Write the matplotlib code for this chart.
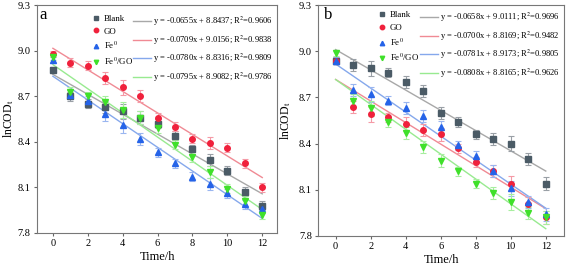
import matplotlib.pyplot as plt
import numpy as np

plt.rcParams['font.family'] = ['Liberation Serif', 'DejaVu Serif']
plt.rcParams['mathtext.fontset'] = 'stix'

# Час, год
time = np.arange(0, 13)

labels = ['Blank', 'GO', 'Fe$^{0}$', 'Fe$^{0}$/GO']

# Панель a: lnCOD_t
a_blank = [8.87, 8.70, 8.65, 8.63, 8.60, 8.56, 8.52, 8.44, 8.35, 8.28, 8.21, 8.07, 7.98]
a_go = [8.98, 8.92, 8.90, 8.82, 8.76, 8.70, 8.56, 8.50, 8.42, 8.39, 8.36, 8.26, 8.10]
a_fe = [8.94, 8.71, 8.67, 8.58, 8.51, 8.42, 8.33, 8.26, 8.17, 8.12, 8.06, 7.99, 7.96]
a_fego = [8.96, 8.73, 8.70, 8.66, 8.61, 8.56, 8.49, 8.38, 8.30, 8.20, 8.09, 8.01, 7.92]
a_err = [0.02, 0.03, 0.03, 0.04, 0.05, 0.04, 0.03, 0.03, 0.03, 0.04, 0.03, 0.03, 0.03]
a_slope = [-0.0655, -0.0709, -0.0780, -0.0795]
a_icpt = [8.8437, 9.0156, 8.8316, 8.9082]
a_r2 = ['0.9606', '0.9838', '0.9809', '0.9786']

# Панель b
b_blank = [8.94, 8.91, 8.89, 8.86, 8.80, 8.74, 8.60, 8.54, 8.46, 8.43, 8.40, 8.30, 8.14]
b_go = [8.94, 8.64, 8.59, 8.57, 8.53, 8.49, 8.46, 8.37, 8.28, 8.22, 8.14, 8.01, 7.92]
b_fe = [8.94, 8.75, 8.72, 8.68, 8.63, 8.58, 8.51, 8.39, 8.32, 8.22, 8.11, 8.02, 7.94]
b_fego = [8.99, 8.68, 8.63, 8.54, 8.47, 8.38, 8.29, 8.22, 8.14, 8.08, 8.02, 7.95, 7.92]
b_err = [0.02, 0.04, 0.05, 0.03, 0.04, 0.04, 0.04, 0.03, 0.03, 0.04, 0.05, 0.04, 0.04]
b_slope = [-0.0658, -0.0700, -0.0781, -0.0808]
b_icpt = [9.0111, 8.8169, 8.9173, 8.8165]
b_r2 = ['0.9696', '0.9482', '0.9805', '0.9626']

markers = ['s', 'o', '^', 'v']
mcolors = ['#4b5b66', '#f0213c', '#2563e8', '#3fe02a']
lcolors = ['#a8a8a8', '#f08a94', '#85a8ec', '#98ea90']
ecolors = ['#9aa0a6', '#f59aa6', '#9ab6f0', '#a8eea0']

fig = plt.figure(figsize=(5.67, 2.69), dpi=100)
ax1 = fig.add_axes([0.065, 0.134, 0.424, 0.847])
ax2 = fig.add_axes([0.561, 0.123, 0.434, 0.858])


def draw(ax, series, err, slopes, icpts, r2s, letter, xlim, ylab_x, let_x, leg_pos):
    pts = []
    lines = []
    for i, y in enumerate(series):
        ax.errorbar(time, y, yerr=err, fmt='none', ecolor=ecolors[i], elinewidth=0.8,
                    capsize=2, capthick=0.8, zorder=2)
        p, = ax.plot(time, y, linestyle='none', marker=markers[i], color=mcolors[i],
                     markersize=4, zorder=3)
        xs = np.array([0, 12])
        l, = ax.plot(xs, slopes[i] * xs + icpts[i], color=lcolors[i], lw=1.0, zorder=1)
        pts.append(p)
        lines.append(l)
    eqs = ['y = %.4fx + %.4f; R$^{2}$=%s' % (s, b, r) for s, b, r in zip(slopes, icpts, r2s)]
    x1, x2, ytop = leg_pos
    leg1 = ax.legend(pts, labels, frameon=False, fontsize=6.4, loc='upper left',
                     bbox_to_anchor=(x1, ytop), borderaxespad=0, borderpad=0,
                     handlelength=1.0, handletextpad=0.4, labelspacing=0.5,
                     markerscale=0.8)
    ax.add_artist(leg1)
    ax.legend(lines, eqs, frameon=False, fontsize=6.1, loc='upper left',
              bbox_to_anchor=(x2, ytop), borderaxespad=0, borderpad=0,
              handlelength=2.1, handletextpad=0.2, labelspacing=0.6)
    ax.set_xlim(*xlim)
    ax.set_ylim(7.8, 9.3)
    ax.set_xticks(range(0, 13, 2))
    ax.set_yticks([7.8, 8.1, 8.4, 8.7, 9.0, 9.3])
    ax.tick_params(labelsize=7.5, length=2.5, pad=2, color='#666666')
    for s in ax.spines.values():
        s.set_color('#777777')
    ax.set_xlabel('Time/h', fontsize=9, labelpad=2)
    ax.set_ylabel('lnCOD$_{\\mathrm{t}}$', fontsize=8.5)
    ax.yaxis.set_label_coords(ylab_x, 0.5)
    ax.text(let_x, 0.955, letter, transform=ax.transAxes, fontsize=12, va='center')


draw(ax1, [a_blank, a_go, a_fe, a_fego], a_err, a_slope, a_icpt, a_r2, 'a',
     (-0.92, 12.86), -0.088, 0.012, (0.227, 0.40, 0.958))
draw(ax2, [b_blank, b_go, b_fe, b_fego], b_err, b_slope, b_icpt, b_r2, 'b',
     (-1.0, 13.05), -0.1, 0.025, (0.242, 0.415, 0.975))

fig.savefig('out.png', dpi=100)
